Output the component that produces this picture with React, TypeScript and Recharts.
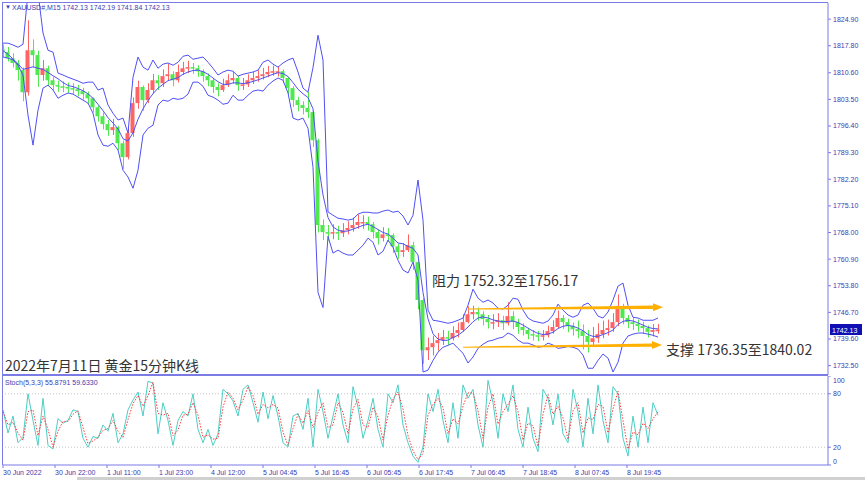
import React from "react";
import { ComposedChart, Bar, Line, XAxis, YAxis, ReferenceLine } from "recharts";

// one point every 5 fifteen-minute bars, x axis counted in bars
const BARS_PER_POINT = 5;

const firstOpen = 1817.0;
const closes = [
  1816.1, 1814.5, 1813.2, 1811.3, 1805.4, 1816.6, 1815.3, 1810.0, 1811.8, 1808.6,
  1807.3, 1807.0, 1806.8, 1806.5, 1806.2, 1805.7, 1804.9, 1803.8, 1801.4, 1799.0,
  1796.9, 1795.3, 1796.1, 1791.8, 1788.1, 1794.5, 1802.5, 1806.8, 1803.3, 1806.0,
  1808.6, 1807.8, 1809.7, 1810.2, 1808.6, 1810.8, 1811.8, 1812.1, 1811.8, 1811.0,
  1809.7, 1808.6, 1806.8, 1806.0, 1807.3, 1808.6, 1809.2, 1807.3, 1807.5, 1808.6,
  1809.2, 1809.7, 1810.2, 1810.8, 1811.0, 1811.0, 1809.2, 1806.5, 1803.3, 1802.0,
  1801.2, 1800.1, 1792.6, 1770.0, 1768.1, 1767.8, 1768.1, 1767.8, 1768.6, 1769.2,
  1770.0, 1770.8, 1770.8, 1770.2, 1768.1, 1766.5, 1767.5, 1767.3, 1764.3, 1762.8,
  1763.3, 1764.6, 1760.1, 1750.0, 1736.6, 1737.4, 1738.5, 1739.3, 1740.1, 1739.8,
  1741.2, 1742.0, 1744.1, 1746.2, 1746.8, 1746.2, 1744.9, 1744.1, 1744.1, 1744.6,
  1743.8, 1745.7, 1744.1, 1742.8, 1742.0, 1740.9, 1740.6, 1740.4, 1740.6, 1741.7,
  1742.8, 1745.2, 1744.1, 1743.1, 1742.2, 1741.7, 1740.4, 1738.8, 1739.8, 1740.9,
  1742.0, 1742.5, 1744.1, 1748.4, 1745.2, 1744.1, 1743.6, 1743.1, 1742.5, 1741.5,
  1742.0, 1742.1,
];
const highs = [
  1818.2, 1817.5, 1815.8, 1814.0, 1812.0, 1824.6, 1819.5, 1816.5, 1814.0, 1812.5,
  1809.5, 1808.5, 1808.3, 1808.0, 1807.8, 1807.4, 1806.6, 1805.6, 1804.0, 1801.8,
  1800.0, 1798.0, 1798.3, 1796.5, 1792.5, 1796.0, 1804.0, 1808.5, 1807.2, 1807.8,
  1810.3, 1810.0, 1811.5, 1813.0, 1811.0, 1812.8, 1813.5, 1813.8, 1813.2, 1812.6,
  1811.5, 1810.4, 1809.0, 1807.8, 1809.0, 1810.2, 1810.8, 1809.8, 1809.2, 1810.2,
  1810.8, 1811.3, 1811.9, 1812.4, 1812.5, 1812.4, 1811.5, 1809.5, 1807.0, 1804.2,
  1803.0, 1805.5, 1800.5, 1793.0, 1771.5, 1770.0, 1770.2, 1769.8, 1770.5, 1771.0,
  1772.0, 1772.8, 1772.6, 1772.2, 1770.8, 1768.8, 1769.4, 1769.2, 1767.8, 1765.0,
  1765.2, 1767.5, 1765.5, 1760.5, 1750.5, 1740.0, 1740.5, 1741.2, 1742.0, 1741.8,
  1743.0, 1744.0, 1746.2, 1748.3, 1748.5, 1748.0, 1747.0, 1746.0, 1746.2, 1746.5,
  1745.8, 1749.4, 1747.0, 1745.0, 1743.8, 1742.6, 1742.0, 1741.8, 1742.0, 1743.2,
  1744.6, 1747.2, 1746.0, 1745.0, 1744.0, 1744.5, 1743.5, 1742.0, 1742.8, 1743.8,
  1744.5, 1744.8, 1746.5, 1751.5, 1749.0, 1746.0, 1745.3, 1744.8, 1744.2, 1743.2,
  1743.6, 1743.6,
];
const lows = [
  1814.8, 1813.6, 1812.0, 1808.5, 1803.0, 1804.5, 1812.0, 1806.8, 1808.5, 1807.0,
  1806.0, 1805.5, 1805.4, 1805.2, 1804.9, 1804.3, 1803.4, 1802.2, 1800.0, 1797.6,
  1795.5, 1793.8, 1794.0, 1790.0, 1785.0, 1787.5, 1793.5, 1801.0, 1800.5, 1802.5,
  1805.0, 1806.0, 1806.8, 1808.5, 1807.0, 1808.0, 1810.0, 1810.5, 1810.3, 1809.5,
  1808.2, 1807.0, 1805.2, 1804.3, 1805.5, 1806.8, 1807.7, 1805.8, 1806.0, 1806.8,
  1807.6, 1808.2, 1808.8, 1809.4, 1809.8, 1809.6, 1807.8, 1804.8, 1801.5, 1800.3,
  1799.5, 1798.5, 1790.8, 1768.0, 1766.0, 1765.8, 1766.2, 1766.0, 1766.8, 1767.5,
  1768.2, 1769.0, 1769.0, 1768.5, 1766.4, 1764.8, 1765.6, 1765.5, 1762.6, 1761.0,
  1761.5, 1762.8, 1758.0, 1747.5, 1733.0, 1734.0, 1735.2, 1736.5, 1738.0, 1738.0,
  1739.2, 1740.0, 1741.5, 1743.8, 1744.8, 1744.5, 1743.2, 1742.4, 1742.2, 1742.8,
  1742.0, 1743.2, 1742.2, 1741.0, 1740.5, 1739.5, 1739.2, 1739.0, 1739.2, 1740.0,
  1741.0, 1742.5, 1742.3, 1741.4, 1740.5, 1739.8, 1736.8, 1736.0, 1737.5, 1738.6,
  1739.8, 1740.5, 1741.5, 1743.0, 1743.5, 1742.5, 1742.0, 1741.6, 1741.0, 1740.0,
  1740.3, 1741.0,
];
const upperBand = [
  1818.5, 1818.5, 1818.0, 1817.4, 1818.2, 1832.0, 1835.0, 1832.0, 1821.2, 1816.6,
  1816.1, 1810.5, 1810.0, 1809.4, 1808.9, 1808.4, 1807.8, 1808.1, 1808.1, 1806.0,
  1806.5, 1802.0, 1799.8, 1798.0, 1798.5, 1794.5, 1809.4, 1814.8, 1812.1, 1811.3,
  1814.0, 1811.8, 1812.9, 1813.2, 1812.6, 1813.4, 1815.0, 1815.3, 1814.2, 1814.5,
  1814.8, 1813.4, 1811.8, 1810.0, 1810.8, 1811.3, 1811.0, 1809.7, 1810.2, 1810.5,
  1810.8, 1811.3, 1813.4, 1814.0, 1812.9, 1812.1, 1813.2, 1814.0, 1814.5, 1810.8,
  1806.5, 1805.4, 1812.0, 1820.6, 1814.0, 1773.5, 1772.6, 1771.8, 1771.6, 1771.3,
  1771.6, 1772.9, 1773.4, 1773.4, 1773.2, 1773.2, 1773.7, 1774.0, 1773.4, 1773.7,
  1772.4, 1770.0, 1772.6, 1782.0, 1771.3, 1747.3, 1744.6, 1744.4, 1744.1, 1743.8,
  1744.1, 1744.6, 1745.2, 1748.6, 1752.9, 1750.5, 1749.4, 1750.0, 1749.2, 1747.8,
  1747.6, 1748.6, 1750.5, 1750.2, 1747.3, 1745.2, 1744.4, 1744.1, 1743.8, 1744.4,
  1746.0, 1748.9, 1747.3, 1746.0, 1745.4, 1746.0, 1748.6, 1749.2, 1747.8, 1745.7,
  1745.2, 1746.8, 1750.0, 1753.7, 1754.5, 1748.6, 1745.4, 1745.2, 1744.6, 1744.6,
  1744.6, 1745.2,
];
const midBand = [
  1816.5, 1815.5, 1814.3, 1813.0, 1811.5, 1811.8, 1812.2, 1811.8, 1811.5, 1810.7,
  1809.8, 1809.0, 1808.0, 1807.2, 1806.9, 1806.4, 1805.8, 1805.0, 1803.8, 1802.2,
  1800.5, 1798.6, 1797.2, 1795.6, 1793.0, 1792.4, 1794.6, 1798.2, 1801.0, 1803.2,
  1805.0, 1806.5, 1807.5, 1808.5, 1808.9, 1809.3, 1810.2, 1810.8, 1811.2, 1811.3,
  1810.9, 1810.2, 1809.2, 1808.2, 1807.5, 1807.5, 1807.9, 1807.9, 1807.7, 1807.9,
  1808.3, 1808.7, 1809.2, 1809.7, 1810.2, 1810.6, 1810.4, 1809.6, 1808.0, 1806.2,
  1805.0, 1804.0, 1801.0, 1787.0, 1778.0, 1772.0, 1769.5, 1768.6, 1768.3, 1768.4,
  1768.9, 1769.4, 1769.9, 1770.2, 1769.6, 1768.8, 1768.0, 1767.6, 1766.5, 1765.2,
  1765.0, 1764.3, 1763.8, 1762.0, 1752.0, 1745.0, 1741.0, 1739.6, 1739.2, 1739.3,
  1740.0, 1740.6, 1741.6, 1742.8, 1744.2, 1745.2, 1745.5, 1745.2, 1744.7, 1744.4,
  1744.2, 1744.3, 1744.4, 1744.0, 1743.3, 1742.5, 1741.7, 1741.1, 1740.8, 1740.9,
  1741.4, 1742.4, 1743.0, 1743.2, 1743.0, 1742.5, 1741.8, 1740.8, 1740.3, 1740.3,
  1740.8, 1741.3, 1742.0, 1743.5, 1744.3, 1744.6, 1744.4, 1743.9, 1743.3, 1742.7,
  1742.4, 1742.3,
];
const lowerBand = [
  1814.8, 1814.5, 1814.0, 1812.6, 1810.0, 1799.3, 1791.3, 1800.6, 1806.5, 1807.3,
  1806.0, 1803.8, 1804.6, 1805.2, 1804.9, 1804.1, 1803.3, 1802.5, 1799.8, 1794.0,
  1791.3, 1791.0, 1791.8, 1790.0, 1784.6, 1782.8, 1779.8, 1784.6, 1794.0, 1795.8,
  1796.6, 1802.0, 1803.3, 1803.0, 1803.8, 1803.5, 1803.8, 1804.9, 1808.1, 1808.1,
  1807.0, 1804.6, 1804.1, 1803.3, 1802.2, 1802.5, 1804.6, 1803.3, 1803.3, 1804.6,
  1805.7, 1806.0, 1805.7, 1807.3, 1808.4, 1809.2, 1808.6, 1805.2, 1798.5, 1798.0,
  1798.5, 1795.8, 1785.4, 1752.0, 1748.0, 1767.0, 1762.5, 1763.3, 1762.5, 1762.0,
  1762.0, 1763.3, 1764.6, 1766.5, 1765.4, 1762.0, 1763.0, 1766.0, 1764.0, 1760.6,
  1758.0, 1757.2, 1760.1, 1755.3, 1730.8, 1731.3, 1733.9, 1736.1, 1737.4, 1737.9,
  1738.5, 1737.1, 1735.8, 1733.2, 1734.8, 1737.1, 1738.2, 1739.0, 1739.3, 1739.8,
  1740.1, 1741.2, 1740.6, 1739.3, 1738.5, 1738.5, 1738.0, 1737.4, 1737.6, 1738.5,
  1738.0, 1737.1, 1737.3, 1737.6, 1737.4, 1736.9, 1735.3, 1731.8, 1731.8, 1733.9,
  1735.6, 1734.5, 1730.8, 1733.4, 1738.5, 1740.4, 1740.9, 1741.2, 1741.2, 1740.9,
  1740.6, 1740.1,
];
const stochK = [
  62, 36, 55, 25, 31, 80, 50, 22, 75, 22,
  18, 52, 47, 50, 62, 60, 30, 20, 32, 30,
  45, 38, 58, 25, 35, 62, 73, 82, 55, 94,
  92, 35, 70, 50, 22, 50, 60, 55, 80, 40,
  25, 40, 22, 35, 85, 80, 72, 55, 85, 90,
  70, 48, 82, 52, 78, 55, 25, 20, 55, 58,
  40, 75, 20, 85, 60, 30, 55, 80, 45, 25,
  88, 65, 30, 50, 75, 40, 20, 80, 70, 90,
  45, 25, 10, 3, 20, 80, 60, 85, 50, 25,
  70, 30, 90, 75, 85, 45, 20, 95, 70, 30,
  80, 60, 90, 40, 20, 65, 30, 15, 85, 75,
  45, 80, 35, 25, 85, 60, 20, 75, 35, 90,
  50, 25, 88, 80, 30, 10, 55, 20, 65, 25,
  70, 55.9,
];
const stochD = [
  60, 45, 48, 36, 28, 60, 62, 33, 55, 40,
  20, 38, 49, 49, 57, 61, 42, 24, 27, 31,
  39, 41, 50, 38, 31, 51, 69, 78, 66, 78,
  93, 58, 56, 58, 33, 39, 56, 57, 70, 56,
  31, 34, 29, 30, 65, 82, 75, 62, 73, 88,
  78, 57, 68, 64, 68, 64, 37, 22, 41, 57,
  47, 61, 42, 59, 70, 42, 45, 70, 59, 35,
  63, 74, 45, 42, 65, 54, 28, 56, 74, 82,
  63, 33, 16, 6, 13, 56, 68, 75, 64, 35,
  52, 46, 66, 81, 81, 61, 30, 65, 80, 46,
  60, 68, 78, 60, 28, 47, 44, 21, 57, 79,
  57, 66, 53, 29, 61, 70, 36, 53, 51, 68,
  66, 36, 63, 83, 50, 18, 37, 34, 47, 41,
  52, 59.6,
];

const timeTicks = [0, 52, 104, 156, 208, 260, 312, 364, 416, 468, 520, 572, 624];
const timeLabels = [
  "30 Jun 2022", "30 Jun 22:00", "1 Jul 11:00", "1 Jul 23:00", "4 Jul 12:00",
  "5 Jul 04:45", "5 Jul 16:45", "6 Jul 05:45", "6 Jul 17:45", "7 Jul 06:45",
  "7 Jul 18:45", "8 Jul 07:45", "8 Jul 19:45",
];
const priceTicks = [
  1824.9, 1817.8, 1810.6, 1803.5, 1796.4, 1789.3, 1782.2, 1775.1, 1768.0, 1760.9,
  1753.8, 1746.7, 1739.6, 1732.5,
];
const stochTicks = [0, 20, 80, 100];
const stochLevels = [80, 20];

const lastPrice = 1742.13;
const quoteText = "XAUUSD#,M15  1742.13 1742.19 1741.84 1742.13";
const stochText = "Stoch(5,3,3) 55.8791 59.6330";
const resistanceText = "阻力 1752.32至1756.17";
const supportText = "支撑 1736.35至1840.02";
const titleText = "2022年7月11日 黄金15分钟K线";
const resistanceArrow = [{ x: 465, y: 1747.6 }, { x: 660, y: 1748.1 }];
const supportArrow = [{ x: 460, y: 1737.4 }, { x: 659, y: 1738.0 }];

const FRAME = "#7b7be6";
const AXIS_TEXT = "#3c3cb0";
const AXIS_FONT = "'Liberation Sans', Arial, sans-serif";
const CJK_FONT = "'Noto Sans CJK SC', 'Noto Sans', sans-serif";
const BAND = "#5050f4";
const UP = "#ff6464";
const DOWN = "#4fe84f";
const ARROW = "#ffb000";

const priceRows = closes.map((c, i) => ({
  x: i * BARS_PER_POINT,
  o: i === 0 ? firstOpen : closes[i - 1],
  h: highs[i],
  l: lows[i],
  c,
  up: upperBand[i],
  mid: midBand[i],
  dn: lowerBand[i],
}));

const stochRows = stochK.map((k, i) => ({ x: i * BARS_PER_POINT, k, d: stochD[i] }));

function Candle(props: any) {
  const { x, y, width, height, payload } = props;
  if (!payload || y == null) return null;
  let top = y;
  let h = height;
  if (h < 0) {
    top = y + h;
    h = -h;
  }
  const span = payload.h - payload.l || 1;
  const bodyTop = top + ((payload.h - Math.max(payload.o, payload.c)) / span) * h;
  const bodyBot = top + ((payload.h - Math.min(payload.o, payload.c)) / span) * h;
  const col = payload.c >= payload.o ? UP : DOWN;
  const cx = Math.round(x + width / 2) + 0.5;
  return (
    <g>
      <line x1={cx} x2={cx} y1={top} y2={top + h} stroke={col} strokeWidth={1} />
      <rect x={x} y={bodyTop} width={width} height={Math.max(1.5, bodyBot - bodyTop)} fill={col} />
    </g>
  );
}

function Arrow(props: any) {
  const { x1, y1, x2, y2 } = props;
  if (x1 == null || x2 == null) return null;
  const dx = x2 - x1;
  const dy = y2 - y1;
  const len = Math.hypot(dx, dy) || 1;
  const ux = dx / len;
  const uy = dy / len;
  const nx = -uy;
  const ny = ux;
  const head = 10;
  const hw = 4;
  const w0 = 0.6;
  const w1 = 1.7;
  const bx = x2 - ux * head;
  const by = y2 - uy * head;
  const pts = [
    [x1 + nx * w0, y1 + ny * w0],
    [bx + nx * w1, by + ny * w1],
    [bx + nx * hw, by + ny * hw],
    [x2, y2],
    [bx - nx * hw, by - ny * hw],
    [bx - nx * w1, by - ny * w1],
    [x1 - nx * w0, y1 - ny * w0],
  ];
  return <polygon points={pts.map((p) => p.join(",")).join(" ")} fill={ARROW} />;
}

function PriceTag(props: any) {
  const vb = props.viewBox;
  if (!vb) return null;
  const left = vb.x + vb.width + 2;
  return (
    <g>
      <rect x={left} y={vb.y - 5.5} width={32} height={11} fill="#0f0fb4" />
      <text x={left + 2} y={vb.y + 3} fontSize={7} fill="#ffffff" fontFamily={AXIS_FONT}>
        {lastPrice.toFixed(2)}
      </text>
    </g>
  );
}

function TimeTick(props: any) {
  const { x, y, payload } = props;
  const label = timeLabels[timeTicks.indexOf(payload.value)];
  return (
    <text x={x} y={y + 6} fontSize={7} fill={AXIS_TEXT} fontFamily={AXIS_FONT} textAnchor="start">
      {label}
    </text>
  );
}

function StochTick(props: any) {
  const { x, y, payload } = props;
  const v = payload.value;
  const dy = v === 100 ? 7 : v === 0 ? -1 : 2.5;
  return (
    <text x={x} y={y + dy} fontSize={7} fill={AXIS_TEXT} fontFamily={AXIS_FONT} textAnchor="start">
      {v}
    </text>
  );
}

export default function App() {
  return (
    <div style={{ position: "absolute", left: 0, top: 0, width: 865, height: 480, background: "#fff", overflow: "hidden" }}>
      <div style={{ position: "absolute", left: 0, top: 0 }}>
        <ComposedChart width={865} height={376} data={priceRows} margin={{ top: 3, right: 0, bottom: 1, left: 3 }}>
          <XAxis dataKey="x" type="number" domain={[0, 825]} hide allowDataOverflow />
          <YAxis
            orientation="right"
            width={37}
            domain={[1730, 1829.2]}
            allowDataOverflow
            ticks={priceTicks}
            interval={0}
            tickFormatter={(v: number) => v.toFixed(2)}
            tick={{ fontSize: 7, fill: AXIS_TEXT, fontFamily: AXIS_FONT }}
            tickSize={3}
            tickMargin={2}
            stroke={FRAME}
          />
          <Line dataKey="mid" type="linear" stroke={BAND} strokeWidth={1} dot={false} isAnimationActive={false} />
          <Bar
            dataKey={(r: any) => [r.l, r.h]}
            barSize={4}
            shape={(p: any) => <Candle {...p} />}
            isAnimationActive={false}
          />
          <Line dataKey="up" type="linear" stroke={BAND} strokeWidth={1} dot={false} isAnimationActive={false} />
          <Line dataKey="dn" type="linear" stroke={BAND} strokeWidth={1} dot={false} isAnimationActive={false} />
          <ReferenceLine segment={resistanceArrow} ifOverflow="visible" shape={(p: any) => <Arrow {...p} />} />
          <ReferenceLine segment={supportArrow} ifOverflow="visible" shape={(p: any) => <Arrow {...p} />} />
          <ReferenceLine y={lastPrice} stroke="none" label={(p: any) => <PriceTag {...p} />} />
        </ComposedChart>
      </div>
      <div style={{ position: "absolute", left: 0, top: 376 }}>
        <ComposedChart width={865} height={104} data={stochRows} margin={{ top: 0, right: 0, bottom: 0, left: 3 }}>
          <XAxis
            dataKey="x"
            type="number"
            domain={[0, 825]}
            ticks={timeTicks}
            interval={0}
            height={15}
            tick={(p: any) => <TimeTick {...p} />}
            tickSize={3}
            tickMargin={1}
            stroke={FRAME}
          />
          <YAxis
            orientation="right"
            width={37}
            domain={[0, 100]}
            ticks={stochTicks}
            interval={0}
            tick={(p: any) => <StochTick {...p} />}
            tickSize={3}
            tickMargin={2}
            stroke={FRAME}
          />
          {stochLevels.map((lv) => (
            <ReferenceLine key={lv} y={lv} stroke="#c4c4c4" strokeDasharray="1 2" />
          ))}
          <Line dataKey="k" type="linear" stroke="#4ccfc4" strokeWidth={1} dot={false} isAnimationActive={false} />
          <Line dataKey="d" type="linear" stroke="#ff3c3c" strokeWidth={1} strokeDasharray="1.5 1.5" dot={false} isAnimationActive={false} />
        </ComposedChart>
      </div>
      <div style={{ position: "absolute", left: 3, top: 2, width: 825, height: 1, background: FRAME }} />
      <div style={{ position: "absolute", left: 2, top: 2, width: 1, height: 463, background: FRAME }} />
      <div style={{ position: "absolute", left: 3, top: 374, width: 825, height: 2, background: FRAME }} />
      <div style={{ position: "absolute", left: 77, top: 477, width: 788, height: 3, background: "#d0d0d0" }} />
      <svg width={865} height={480} style={{ position: "absolute", left: 0, top: 0, pointerEvents: "none" }}>
        <text x={5} y={9} fontSize={6} fill={AXIS_TEXT} fontFamily={AXIS_FONT}>▼</text>
        <text x={12} y={10} fontSize={7} fill={AXIS_TEXT} fontFamily={AXIS_FONT}>{quoteText}</text>
        <text x={5} y={385} fontSize={7} fill={AXIS_TEXT} fontFamily={AXIS_FONT}>{stochText}</text>
        <text x={432} y={286} fontSize={14} fill="#333333" fontFamily={CJK_FONT}>{resistanceText}</text>
        <text x={666} y={355} fontSize={14} fill="#333333" fontFamily={CJK_FONT}>{supportText}</text>
        <text x={5} y={371} fontSize={14} fill="#333333" fontFamily={CJK_FONT}>{titleText}</text>
      </svg>
    </div>
  );
}
